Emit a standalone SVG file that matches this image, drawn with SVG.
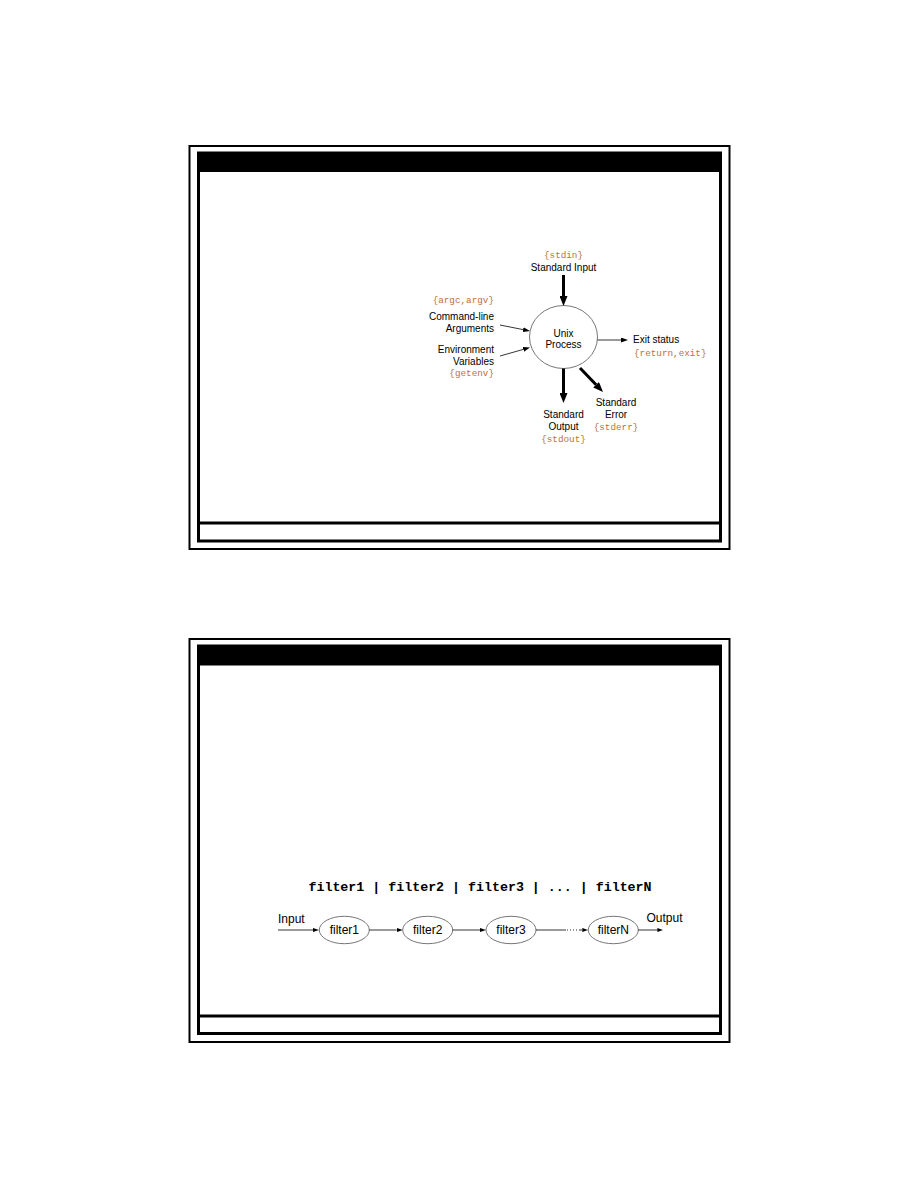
<svg xmlns="http://www.w3.org/2000/svg" width="918" height="1188" viewBox="0 0 918 1188">
<style>
.outer{fill:none;stroke:#000;stroke-width:2}
.inner{fill:none;stroke:#000;stroke-width:3}
.hdr{fill:#000}
.lbl{font-family:"Liberation Sans",Arial,sans-serif;font-size:10px;fill:#000}
.code{font-family:"Liberation Mono","Courier New",monospace;font-size:9.3px;fill:#c0703c}
.fl{font-family:"Liberation Sans",Arial,sans-serif;font-size:12px;fill:#000}
.cmd{font-family:"Liberation Mono","Courier New",monospace;font-size:13.3px;font-weight:bold;fill:#000}
.node{fill:#fff;stroke:#666;stroke-width:0.9}
.thick{stroke:#000;stroke-width:3;fill:none}
.thin{stroke:#000;stroke-width:0.8;fill:none}
</style>
<defs>
<marker id="ah-thick" markerUnits="userSpaceOnUse" markerWidth="10" markerHeight="8" refX="0" refY="4" orient="auto">
<path d="M0,0 L10,4 L0,8 z" fill="#000"/>
</marker>
<marker id="ah-thin" markerUnits="userSpaceOnUse" markerWidth="7" markerHeight="5" refX="0" refY="2.5" orient="auto">
<path d="M0,0 L7,2.5 L0,5 z" fill="#000"/>
</marker>
<marker id="ah-small" markerUnits="userSpaceOnUse" markerWidth="6" markerHeight="4" refX="0" refY="2" orient="auto">
<path d="M0,0 L6,2 L0,4 z" fill="#000"/>
</marker>
</defs>
<rect width="918" height="1188" fill="#fff"/>

<!-- Slide 1 frame -->
<g id="slide1-frame">
<rect class="outer" x="189.5" y="146" width="540" height="403"/>
<rect class="hdr" x="197" y="152.5" width="525" height="19.5"/>
<rect class="inner" x="198.5" y="153" width="522" height="388"/>
<line class="inner" x1="198.5" y1="523" x2="720.5" y2="523"/>
</g>

<!-- Slide 1 diagram -->
<g id="process">
<ellipse class="node" cx="563.5" cy="337" rx="34" ry="31.5"/>
<text class="lbl" x="563.5" y="336.7" text-anchor="middle">Unix</text>
<text class="lbl" x="563.5" y="348.3" text-anchor="middle">Process</text>
</g>
<g id="stdin">
<text class="code" x="563.5" y="258" text-anchor="middle">{stdin}</text>
<text class="lbl" x="563.5" y="270.5" text-anchor="middle">Standard Input</text>
</g>
<g id="args">
<text class="code" x="494" y="303" text-anchor="end">{argc,argv}</text>
<text class="lbl" x="494" y="320" text-anchor="end">Command-line</text>
<text class="lbl" x="494" y="332.3" text-anchor="end">Arguments</text>
</g>
<g id="env">
<text class="lbl" x="494" y="352.7" text-anchor="end">Environment</text>
<text class="lbl" x="494" y="364.5" text-anchor="end">Variables</text>
<text class="code" x="494" y="376" text-anchor="end">{getenv}</text>
</g>
<g id="exit">
<text class="lbl" x="633" y="343.3">Exit status</text>
<text class="code" x="634" y="355.5">{return,exit}</text>
</g>
<g id="stdout">
<text class="lbl" x="563.5" y="418" text-anchor="middle">Standard</text>
<text class="lbl" x="563.5" y="429.5" text-anchor="middle">Output</text>
<text class="code" x="563.5" y="442" text-anchor="middle">{stdout}</text>
</g>
<g id="stderr">
<text class="lbl" x="616" y="405.7" text-anchor="middle">Standard</text>
<text class="lbl" x="616" y="417.7" text-anchor="middle">Error</text>
<text class="code" x="616" y="430" text-anchor="middle">{stderr}</text>
</g>

<g id="connectors1">
<line class="thick" x1="563.5" y1="275" x2="563.5" y2="296" marker-end="url(#ah-thick)"/>
<line class="thick" x1="563.5" y1="368.5" x2="563.5" y2="393" marker-end="url(#ah-thick)"/>
<line class="thick" x1="580" y1="368" x2="596.1" y2="384.8" marker-end="url(#ah-thick)"/>
<line class="thin" x1="500" y1="325" x2="523.1" y2="329.6" marker-end="url(#ah-thin)"/>
<line class="thin" x1="500" y1="356" x2="523.3" y2="349.4" marker-end="url(#ah-thin)"/>
<line class="thin" x1="597.5" y1="340" x2="621" y2="340" marker-end="url(#ah-thin)"/>
</g>

<!-- Slide 2 frame -->
<g id="slide2-frame">
<rect class="outer" x="189.5" y="639" width="540" height="403"/>
<rect class="hdr" x="197" y="645.5" width="525" height="20"/>
<rect class="inner" x="198.5" y="646" width="522" height="387.5"/>
<line class="inner" x1="198.5" y1="1016" x2="720.5" y2="1016"/>
</g>

<!-- Slide 2 diagram -->
<text class="cmd" x="480" y="891" text-anchor="middle">filter1 | filter2 | filter3 | ... | filterN</text>
<text class="fl" x="278" y="923">Input</text>
<text class="fl" x="646.5" y="922">Output</text>
<g id="filter1">
<ellipse class="node" cx="344.3" cy="930" rx="25" ry="13.7"/>
<text class="fl" x="344.3" y="934.3" text-anchor="middle">filter1</text>
</g>
<g id="filter2">
<ellipse class="node" cx="427.7" cy="930" rx="25" ry="13.7"/>
<text class="fl" x="427.7" y="934.3" text-anchor="middle">filter2</text>
</g>
<g id="filter3">
<ellipse class="node" cx="511" cy="930" rx="25" ry="13.7"/>
<text class="fl" x="511" y="934.3" text-anchor="middle">filter3</text>
</g>
<g id="filterN">
<ellipse class="node" cx="613.3" cy="930" rx="25" ry="13.7"/>
<text class="fl" x="613.3" y="934.3" text-anchor="middle">filterN</text>
</g>

<g id="connectors2">
<line class="thin" x1="278" y1="930" x2="313" y2="930" marker-end="url(#ah-small)"/>
<line class="thin" x1="369.3" y1="930" x2="396.7" y2="930" marker-end="url(#ah-small)"/>
<line class="thin" x1="452.7" y1="930" x2="480" y2="930" marker-end="url(#ah-small)"/>
<line class="thin" x1="536" y1="930" x2="566" y2="930"/>
<line class="thin" x1="567" y1="930" x2="580" y2="930" stroke-dasharray="1,2"/>
<line class="thin" x1="580" y1="930" x2="582.3" y2="930" marker-end="url(#ah-small)"/>
<line class="thin" x1="638.3" y1="930" x2="657.3" y2="930" marker-end="url(#ah-small)"/>
</g>
</svg>
